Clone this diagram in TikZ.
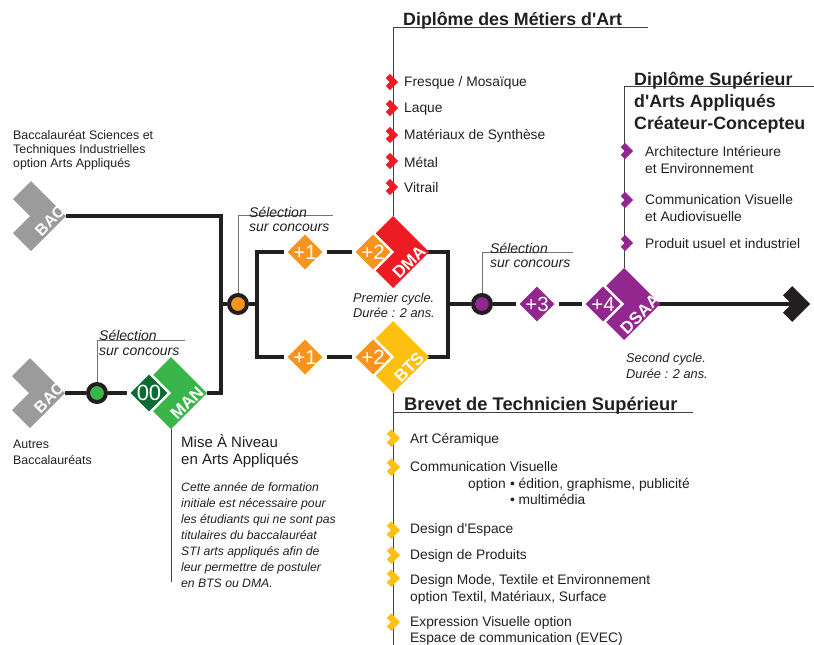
\documentclass[tikz,border=0pt]{standalone}
\usepackage{fontspec}
\setmainfont{Liberation Sans}[Ligatures=TeXOff]
\usetikzlibrary{shapes.geometric}
\usetikzlibrary{backgrounds}

\definecolor{ink}{HTML}{231F20}
\definecolor{bacgrey}{HTML}{9B9B9B}
\definecolor{manlight}{HTML}{39B54A}
\definecolor{mandark}{HTML}{0B6B35}
\definecolor{yearorange}{HTML}{F7941E}
\definecolor{dmared}{HTML}{ED1C24}
\definecolor{btsyellow}{HTML}{FDC010}
\definecolor{dsaapurple}{HTML}{92278F}

\begin{document}
\begin{tikzpicture}[x=1pt,y=-1pt,
  route/.style={draw=ink,line width=4.5pt},
  thinline/.style={draw=ink!85,line width=0.9pt},
  leader/.style={draw=black!55,line width=0.6pt},
  yearbox/.style={diamond,aspect=1,inner sep=0pt,outer sep=1.5pt,minimum size=40pt,draw=white,line width=2.5pt,text=white,font=\fontsize{20.5}{20.5}\selectfont},
  cyclebox/.style={diamond,aspect=1,inner sep=0pt,outer sep=0pt,minimum size=72pt},
  cyclelab/.style={text=white,rotate=45,inner sep=0pt,font=\bfseries\fontsize{17}{17}\selectfont},
  seldot/.style={circle,draw=ink,line width=4pt,minimum size=18pt,inner sep=0pt},
  seltxt/.style={anchor=west,inner sep=0pt,align=left,font=\itshape\fontsize{14}{14.5}\selectfont,text=ink},
  cycletxt/.style={anchor=west,inner sep=0pt,align=left,font=\itshape\fontsize{12.8}{15.5}\selectfont,text=ink},
  itemtxt/.style={anchor=west,inner sep=0pt,align=left,font=\fontsize{13.8}{17}\selectfont,text=ink},
  bactxt/.style={anchor=west,inner sep=0pt,align=left,font=\fontsize{12.4}{14}\selectfont,text=ink},
  headtxt/.style={anchor=west,inner sep=0pt,align=left,font=\bfseries\fontsize{17.8}{22}\selectfont,text=ink},
  chev/.pic={\fill (0,0)--(-35,-35)--(-53,-17)--(-36,0)--(-53,17)--(-35,35)--cycle;
    \coordinate (-tip) at (0,0); \coordinate (-notch) at (-36,0);}]
  \useasboundingbox (0,0) rectangle (814,645);

  % entries
  \pic[fill=bacgrey] (bacA) at (66,216) {chev};
  \pic[fill=bacgrey] (bacB) at (65,393) {chev};
  \node[cyclelab,font=\bfseries\fontsize{16}{16}\selectfont] (bacAlab) at (50,221) {BAC};
  \node[cyclelab,font=\bfseries\fontsize{16}{16}\selectfont] (bacBlab) at (49,398) {BAC};
  \node[bactxt] (bacAtxt) at (13,150) {Baccalauréat Sciences et\\Techniques Industrielles\\option Arts Appliqués};
  \node[bactxt,font=\fontsize{12.4}{16}\selectfont] (bacBtxt) at (13,452) {Autres\\Baccalauréats};

  % mise a niveau
  \node[cyclebox,fill=manlight] (man) at (171,393) {};
  \node[yearbox,fill=mandark,minimum size=42pt,font=\fontsize{22}{22}\selectfont] (zero) at (149,393) {00};
  \node[cyclelab] (manlab) at (187,403) {MAN};
  \node[seldot,fill=manlight] (selB) at (97,393) {};
  \coordinate (selBend) at (185,340);
  \node[seltxt] (selBtxt) at (99,343) {Sélection\\sur concours};
  \node[itemtxt,font=\fontsize{15}{17}\selectfont] (mantxt) at (181,451) {Mise À Niveau\\en Arts Appliqués};
  \node[cycletxt,font=\itshape\fontsize{12.2}{16}\selectfont] (mannote) at (181,535) {Cette année de formation\\initiale est nécessaire pour\\les étudiants qui ne sont pas\\titulaires du baccalauréat\\STI arts appliqués afin de\\leur permettre de postuler\\en BTS ou DMA.};
  \coordinate (manEnd) at (171,582);

  % first cycle
  \coordinate (jA) at (221,304);
  \node[seldot,fill=yearorange] (selO) at (238,304) {};
  \coordinate (jB) at (257,304);
  \coordinate (selOend) at (333,215);
  \node[seltxt] (selOtxt) at (249,219.5) {Sélection\\sur concours};

  \node[cyclebox,fill=dmared] (dma) at (393,252) {};
  \node[yearbox,fill=yearorange] (pa1) at (305,252) {+1};
  \node[yearbox,fill=yearorange] (pa2) at (373,252) {+2};
  \node[cyclelab] (dmalab) at (409,262) {DMA};

  \node[cyclebox,fill=btsyellow] (bts) at (393,357) {};
  \node[yearbox,fill=yearorange] (pb1) at (305,357) {+1};
  \node[yearbox,fill=yearorange] (pb2) at (373,357) {+2};
  \node[cyclelab] (btslab) at (409,367) {BTS};
  \node[cycletxt] (firstcyc) at (353,305.5) {Premier cycle.\\Durée : 2 ans.};
  \coordinate (jC) at (448,304);

  % second cycle
  \node[seldot,fill=dsaapurple] (selP) at (482,304) {};
  \coordinate (selPend) at (573,252);
  \node[seltxt] (selPtxt) at (490,255.5) {Sélection\\sur concours};
  \node[yearbox,fill=dsaapurple] (p3) at (537,304) {+3};
  \node[cyclebox,fill=dsaapurple] (dsaa) at (624,304) {};
  \node[yearbox,fill=dsaapurple] (p4) at (603,304) {+4};
  \node[cyclelab] (dsaalab) at (640,314) {DSAA};
  \node[cycletxt] (secondcyc) at (626,366) {Second cycle.\\Durée : 2 ans.};
  \pic[fill=ink,scale=0.51] (arrow) at (810,304) {chev};

  % DMA list
  \coordinate (dmaEnd) at (648,27);
  \node[headtxt] (dmahead) at (403,20.5) {Diplôme des Métiers d'Art};
  \foreach \y/\txt [count=\i] in {83/{Fresque / Mosaïque},109/Laque,136/{Matériaux de Synthèse},162/Métal,188/Vitrail}{
    \pic[fill=dmared,scale=0.23] at (398,\y-1) {chev};
    \node[itemtxt] (dmaitem\i) at (404,\y) {\txt};
  }

  % DSAA list
  \coordinate (dsaaEnd) at (814,86);
  \node[headtxt] (dsaahead) at (634,102.5) {Diplôme Supérieur\\d'Arts Appliqués\\Créateur-Concepteu};
  \foreach \y in {151,200,243}
    \pic[fill=dsaapurple,scale=0.23] at (633,\y) {chev};
  \node[itemtxt] (dsaaitem1) at (645,160) {Architecture Intérieure\\et Environnement};
  \node[itemtxt] (dsaaitem2) at (645,208) {Communication Visuelle\\et Audiovisuelle};
  \node[itemtxt] (dsaaitem3) at (645,244) {Produit usuel et industriel};

  % BTS list
  \coordinate (btsRule) at (393,412);
  \coordinate (btsRuleEnd) at (693,412);
  \coordinate (btsEnd) at (393,645);
  \node[headtxt,font=\bfseries\fontsize{18.3}{22}\selectfont] (btshead) at (404,405.5) {Brevet de Technicien Supérieur};
  \foreach \y in {438,467,530,555,578,622}
    \pic[fill=btsyellow,scale=0.25] at (400,\y) {chev};
  \node[itemtxt] (btsitem1) at (410,440) {Art Céramique};
  \node[itemtxt] (btsitem2) at (410,467) {Communication Visuelle};
  \node[itemtxt] (btsoptlab) at (468,485) {option};
  \node[itemtxt,anchor=north west,font=\fontsize{13.8}{16}\selectfont] (btsoptlist) at ([xshift=3.8pt]btsoptlab.north east) {• édition, graphisme, publicité\\• multimédia};
  \node[itemtxt] (btsitem3) at (410,530) {Design d'Espace};
  \node[itemtxt] (btsitem4) at (410,556) {Design de Produits};
  \node[itemtxt] (btsitem5) at (410,589) {Design Mode, Textile et Environnement\\option Textil, Matériaux, Surface};
  \node[itemtxt,font=\fontsize{13.8}{16}\selectfont] (btsitem6) at (410,631) {Expression Visuelle option\\Espace de communication (EVEC)};

  \begin{scope}[on background layer]
    \draw[route] (bacA-tip) -| (jA) |- (man.east);
    \draw[route] (bacB-tip) -- (selB) -- (zero);
    \draw[route] (jA) -- (selO) -- (jB);
    \draw[route] (jB) |- (pa1) -- (pa2) -- (dma.east) -| (jC);
    \draw[route] (jB) |- (pb1) -- (pb2) -- (bts.east) -| (jC);
    \draw[route] (jC) -- (selP) -- (p3) -- (p4) -- (dsaa.east) -- (arrow-notch);
    \draw[leader] (selB) |- (selBend);
    \draw[leader] (selO) |- (selOend);
    \draw[leader] (selP) |- (selPend);
    \draw[thinline] (dma.north) |- (dmaEnd);
    \draw[thinline] (bts.south) -- (btsEnd);
    \draw[thinline] (btsRule) -- (btsRuleEnd);
    \draw[thinline] (dsaa.north) |- (dsaaEnd);
    \draw[thinline] (man.south) -- (manEnd);
  \end{scope}
\end{tikzpicture}
\end{document}
